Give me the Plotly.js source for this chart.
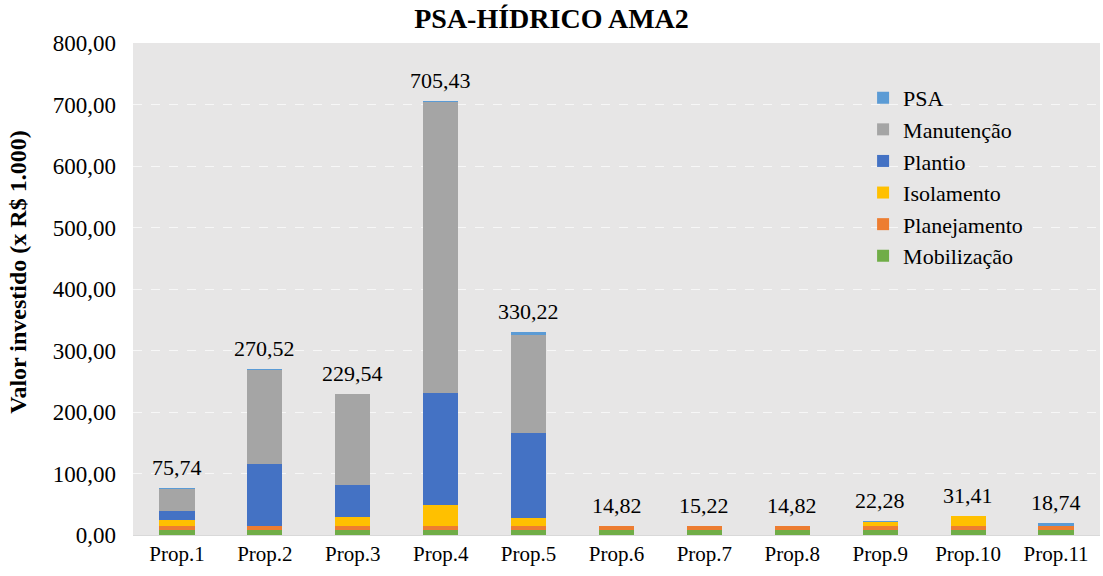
<!DOCTYPE html>
<html>
<head>
<meta charset="utf-8">
<script src="https://cdn.plot.ly/plotly-3.0.1.min.js"></script>
<style>html,body{margin:0;padding:0;background:#fff;}#chart{width:1103px;height:576px;}</style>
</head>
<body>
<div id="chart"></div>
<script>
const categories = ["Prop.1","Prop.2","Prop.3","Prop.4","Prop.5","Prop.6","Prop.7","Prop.8","Prop.9","Prop.10","Prop.11"];
const mobilizacao  = [7.8, 7.8, 7.8, 7.8, 7.8, 7.8, 7.8, 7.8, 7.8, 7.8, 7.8];
const planejamento = [6.2, 6.2, 6.2, 6.2, 6.2, 6.2, 6.2, 6.2, 6.2, 6.2, 6.2];
const isolamento   = [10.4, 0, 16.0, 35.3, 13.7, 0, 0, 0, 6.9, 16.8, 0];
const plantio      = [15.1, 101.5, 51.0, 181.0, 137.6, 0, 0, 0, 0, 0, 0];
const manutencao   = [35.5, 153.5, 147.5, 473.6, 159.5, 0, 0, 0, 0, 0, 0];
const psa          = [0.74, 1.52, 1.04, 1.53, 5.42, 0.82, 1.22, 0.82, 1.38, 0.61, 4.74];
const totalLabels  = ["75,74","270,52","229,54","705,43","330,22","14,82","15,22","14,82","22,28","31,41","18,74"];
const yTicks = [0,100,200,300,400,500,600,700,800];

const FONT = 'Liberation Serif, Times New Roman, serif';
const series = [
  {name: "Mobilização", y: mobilizacao, color: "#70AD47"},
  {name: "Planejamento", y: planejamento, color: "#ED7D31"},
  {name: "Isolamento", y: isolamento, color: "#FFC000"},
  {name: "Plantio", y: plantio, color: "#4472C4"},
  {name: "Manutenção", y: manutencao, color: "#A5A5A5"},
  {name: "PSA", y: psa, color: "#5B9BD5"}
];
const traces = series.map((s, i) => ({
  type: "bar", name: s.name, x: categories, y: s.y,
  marker: {color: s.color}, legendgroup: "g" + i, hoverinfo: "skip"
}));

const totals = categories.map((c, i) => series.reduce((a, s) => a + s.y[i], 0));
const annotations = categories.map((c, i) => ({
  x: c, y: totals[i], xref: "x", yref: "y", text: totalLabels[i],
  showarrow: false, yanchor: "bottom", yshift: 6,
  font: {family: FONT, size: 22, color: "#000"}
}));
annotations.push({
  text: "<b>Valor investido (x R$ 1.000)</b>", xref: "paper", yref: "paper",
  x: -0.119, y: 0.535, xanchor: "center", yanchor: "middle", textangle: -90,
  showarrow: false, font: {family: FONT, size: 24, color: "#000"}
});

const layout = {
  width: 1103, height: 576,
  margin: {l: 133, r: 3, t: 43, b: 41},
  paper_bgcolor: "#ffffff", plot_bgcolor: "#e7e6e6",
  barmode: "stack", bargap: 0.6,
  font: {family: FONT, color: "#000"},
  title: {text: "<b>PSA-HÍDRICO AMA2</b>", x: 0.5, xref: "container", y: 0.968, yref: "container", yanchor: "middle",
          font: {family: FONT, size: 28, color: "#000"}},
  separators: ",.",
  xaxis: {type: "category", tickfont: {family: FONT, size: 21, color: "#000"},
          showline: true, linecolor: "#d9d9d9", linewidth: 1, ticks: "", showgrid: false},
  yaxis: {range: [0, 800], tickvals: yTicks, tickformat: ".2f", ticks: "",
          tickfont: {family: FONT, size: 23, color: "#000"}, ticklabelstandoff: 16,
          showgrid: true, gridcolor: "#f7f7f7", griddash: "dash", gridwidth: 1, zeroline: false},
  legend: {x: 0.755, y: 0.931, xanchor: "left", yanchor: "top", traceorder: "reversed",
           bgcolor: "rgba(0,0,0,0)", font: {family: FONT, size: 22, color: "#000"},
           tracegroupgap: 0.6, itemwidth: 30},
  annotations: annotations,
  showlegend: true
};
Plotly.newPlot("chart", traces, layout, {displayModeBar: false, staticPlot: true});
</script>
</body>
</html>
